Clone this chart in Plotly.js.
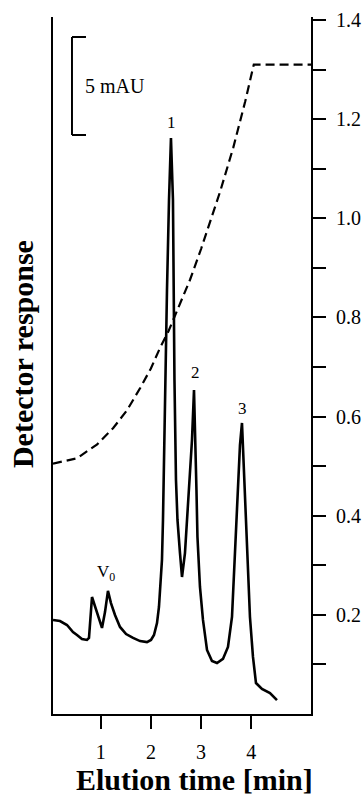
<!DOCTYPE html>
<html>
<head>
<meta charset="utf-8">
<script src="https://cdn.plot.ly/plotly-3.0.1.min.js"></script>
<style>
html,body{margin:0;padding:0;background:#fff;}
#chart{width:364px;height:800px;}
</style>
</head>
<body>
<div id="chart"></div>
<script>
// Chromatogram (detector response, mAU) vs elution time (min)
const timeMin = [0.050,0.189,0.329,0.448,0.528,0.627,0.727,0.767,0.827,0.926,1.026,1.086,1.145,1.205,1.285,1.385,1.506,1.645,1.785,1.922,2.002,2.062,2.122,2.161,2.201,2.221,2.241,2.261,2.301,2.321,2.361,2.400,2.440,2.450,2.470,2.500,2.530,2.580,2.620,2.679,2.739,2.779,2.819,2.859,2.888,2.908,2.928,2.978,3.038,3.118,3.217,3.317,3.436,3.536,3.616,3.675,3.735,3.775,3.815,3.855,3.914,3.974,4.034,4.094,4.213,4.373,4.512];
const responseMAU = [4.80,4.74,4.54,4.18,4.03,3.83,3.78,3.88,5.97,5.20,4.39,5.20,6.28,5.66,5.05,4.44,4.08,3.88,3.72,3.67,3.78,4.03,4.64,5.46,6.84,7.86,9.90,13.47,18.57,21.63,26.22,29.39,26.22,21.63,17.04,11.94,9.90,8.21,6.99,8.21,10.77,11.94,13.98,16.53,13.98,11.43,9.03,6.48,4.80,3.27,2.70,2.60,2.81,3.42,4.95,8.37,11.79,13.72,14.85,12.45,8.37,4.95,2.91,1.58,1.28,1.07,0.71];

// Gradient profile (right axis)
const gradTime = [0.05,0.53,0.93,1.25,1.52,1.79,2.00,2.18,2.35,2.52,2.78,3.00,3.20,3.38,3.64,3.88,4.05,5.19];
const gradValue = [0.505,0.516,0.544,0.577,0.612,0.658,0.697,0.738,0.772,0.813,0.876,0.938,0.998,1.054,1.142,1.236,1.310,1.310];

// Axis ticks
const xTickVals = [1,2,3,4];
const y2TickVals = [0.2,0.4,0.6,0.8,1.0,1.2,1.4];
const y2TickText = ['0.2','0.4','0.6','0.8','1.0','1.2','1.4'];
const y2MinorVals = [0.1,0.3,0.5,0.7,0.9,1.1,1.3];

// Peak labels
const peakLabels = ['V<sub>0</sub>','1','2','3'];
const peakLabelTime = [1.11,2.42,2.88,3.82];
const peakLabelMAU = [7.2,30.2,17.4,15.6];

// Scale bar
const scaleBarLow = 29.54;
const scaleBarHigh = 34.54;
const scaleBarText = '5 mAU';

const serif = 'Liberation Serif, Times New Roman, serif';

const traces = [
  {x: timeMin, y: responseMAU, type: 'scatter', mode: 'lines',
   line: {color: '#000', width: 2.6}, xaxis: 'x', yaxis: 'y', hoverinfo: 'skip'},
  {x: gradTime, y: gradValue, type: 'scatter', mode: 'lines',
   line: {color: '#000', width: 2.2, dash: '9px,5px'},
   xaxis: 'x', yaxis: 'y2', hoverinfo: 'skip'}
];

const annotations = peakLabels.map((t, i) => ({
  text: t, x: peakLabelTime[i], y: peakLabelMAU[i], xref: 'x', yref: 'y',
  showarrow: false, font: {family: serif, size: 17, color: '#000'}
}));
annotations.push({
  text: scaleBarText, x: 0.64, y: (scaleBarLow + scaleBarHigh) / 2, xref: 'x', yref: 'y',
  xanchor: 'left', yanchor: 'middle', showarrow: false, font: {family: serif, size: 20, color: '#000'}
});
annotations.push({
  text: 'Detector response', textangle: -90, xref: 'paper', yref: 'paper',
  x: -0.116, y: 0.5165, xanchor: 'center', yanchor: 'middle', showarrow: false,
  font: {family: serif, size: 30, color: '#000', weight: 'bold'}
});
annotations.push({
  text: 'Elution time [min]', xref: 'paper', yref: 'paper',
  x: 0.55, y: -0.0933, xanchor: 'center', yanchor: 'middle', showarrow: false,
  font: {family: serif, size: 30, color: '#000', weight: 'bold'}
});

const sbX0 = 0.428, sbX1 = 0.707;
const shapes = [
  {type: 'line', xref: 'x', yref: 'y', x0: sbX0, x1: sbX0, y0: scaleBarLow, y1: scaleBarHigh, line: {color: '#000', width: 2}},
  {type: 'line', xref: 'x', yref: 'y', x0: sbX0, x1: sbX1, y0: scaleBarLow, y1: scaleBarLow, line: {color: '#000', width: 2}},
  {type: 'line', xref: 'x', yref: 'y', x0: sbX0, x1: sbX1, y0: scaleBarHigh, y1: scaleBarHigh, line: {color: '#000', width: 2}}
];

const layout = {
  width: 364, height: 800,
  margin: {l: 53, r: 53, t: 17, b: 86},
  paper_bgcolor: '#fff', plot_bgcolor: '#fff',
  showlegend: false,
  font: {family: serif, color: '#000'},
  xaxis: {
    range: [0.05, 5.19], showgrid: false, zeroline: false,
    showline: true, linecolor: '#000', linewidth: 2,
    ticks: 'outside', ticklen: 13, tickwidth: 2, tickcolor: '#000',
    tickvals: xTickVals, ticktext: xTickVals.map(String),
    tickfont: {family: serif, size: 20, color: '#000'},
    ticklabelstandoff: 6, fixedrange: true
  },
  yaxis: {
    range: [0, 35.56], showgrid: false, zeroline: false,
    showline: true, linecolor: '#000', linewidth: 2,
    showticklabels: false, ticks: '', fixedrange: true
  },
  yaxis2: {
    overlaying: 'y', side: 'right', anchor: 'x',
    range: [0, 1.406], showgrid: false, zeroline: false,
    showline: true, linecolor: '#000', linewidth: 2,
    ticks: 'outside', ticklen: 13, tickwidth: 2, tickcolor: '#000',
    tickmode: 'array', tickvals: y2TickVals, ticktext: y2TickText,
    minor: {tickmode: 'array', tickvals: y2MinorVals, ticks: 'outside', ticklen: 13, tickwidth: 2, tickcolor: '#000', showgrid: false},
    tickfont: {family: serif, size: 20, color: '#000'},
    ticklabelstandoff: 6, fixedrange: true
  },
  annotations: annotations,
  shapes: shapes
};

Plotly.newPlot('chart', traces, layout, {displayModeBar: false, staticPlot: true});
</script>
</body>
</html>
